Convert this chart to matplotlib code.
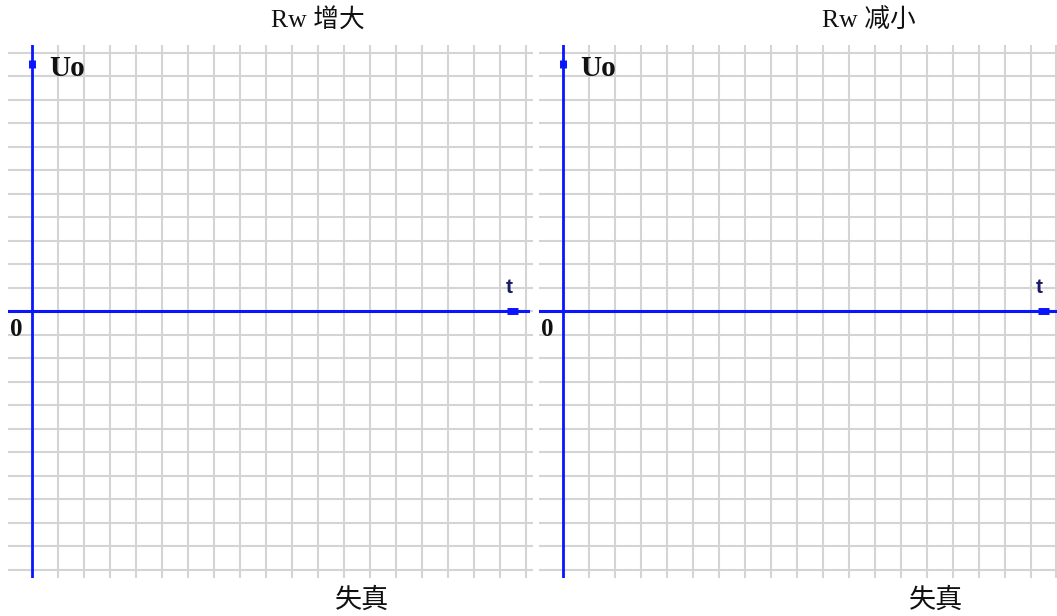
'''Two blank oscilloscope grids for drawing Uo(t).'''

import matplotlib
matplotlib.use('Agg')
import matplotlib.pyplot as plt

# panel texts
titles = ['Rw 增大', 'Rw 减小']
footers = ['失真', '失真']
ylabel_text = 'Uo'
xlabel_text = 't'
origin_text = '0'

# grid lines, in grid cells
grid_x = list(range(1, 20))
grid_y = list(range(-11, 12))

# view limits of each panel, in grid cells
xlims = [(-0.92, 19.27), (-0.92, 19.02)]
ylim = (-11.36, 11.32)

# arrow marks on the axes
arrow_x = (18.27, 18.7)
arrow_y = (10.34, 10.68)

W, H = 1057, 616
fig = plt.figure(figsize=(W / 100, H / 100), dpi=100)

# axes boxes in pixels: left, top, right, bottom
boxes = [(8, 45, 533, 578), (539, 45, 1057, 578)]

blue = '#0a14ff'
grid_color = '#d4d4d4'
cjk = ['Liberation Serif', 'Noto Sans CJK SC', 'DejaVu Sans']

for i, (l, t, r, b) in enumerate(boxes):
    ax = fig.add_axes([l / W, 1 - b / H, (r - l) / W, (b - t) / H])
    ax.set_xlim(*xlims[i])
    ax.set_ylim(*ylim)
    ax.set_xticks(grid_x)
    ax.set_yticks(grid_y)
    ax.grid(True, color=grid_color, linewidth=1.5)
    ax.tick_params(length=0, labelbottom=False, labelleft=False)
    for s in ax.spines.values():
        s.set_visible(False)

    # axes
    ax.axhline(0, xmax=(19.08 - xlims[i][0]) / (xlims[i][1] - xlims[i][0]),
               color=blue, linewidth=2.2)
    ax.axvline(0, color=blue, linewidth=2.0)
    ax.plot(arrow_x, [0, 0], color=blue, linewidth=5, solid_capstyle='butt')
    ax.plot([0, 0], arrow_y, color=blue, linewidth=5, solid_capstyle='butt')

    ax.text(0.68, 10.3, ylabel_text, fontsize=21, fontweight='bold',
            family='Liberation Serif', color='#111111', va='center', ha='left')
    ax.text(18.35, 1.0, xlabel_text, fontsize=15, fontweight='bold',
            family='Liberation Sans', color='#1a1a66', va='center', ha='center')
    ax.text(-0.62, -0.78, origin_text, fontsize=18, fontweight='bold',
            family='Liberation Serif', color='#111111', va='center', ha='center')

title_x = [318, 869]
footer_x = [362, 936]
for i in range(2):
    fig.text(title_x[i] / W, 1 - 20 / H, titles[i], fontsize=18.5, family=cjk,
             ha='center', va='center', color='#111111')
    fig.text(footer_x[i] / W, 1 - 601 / H, footers[i], fontsize=19.5, family=cjk,
             ha='center', va='center', color='#111111')

fig.savefig('out.png', dpi=100)
